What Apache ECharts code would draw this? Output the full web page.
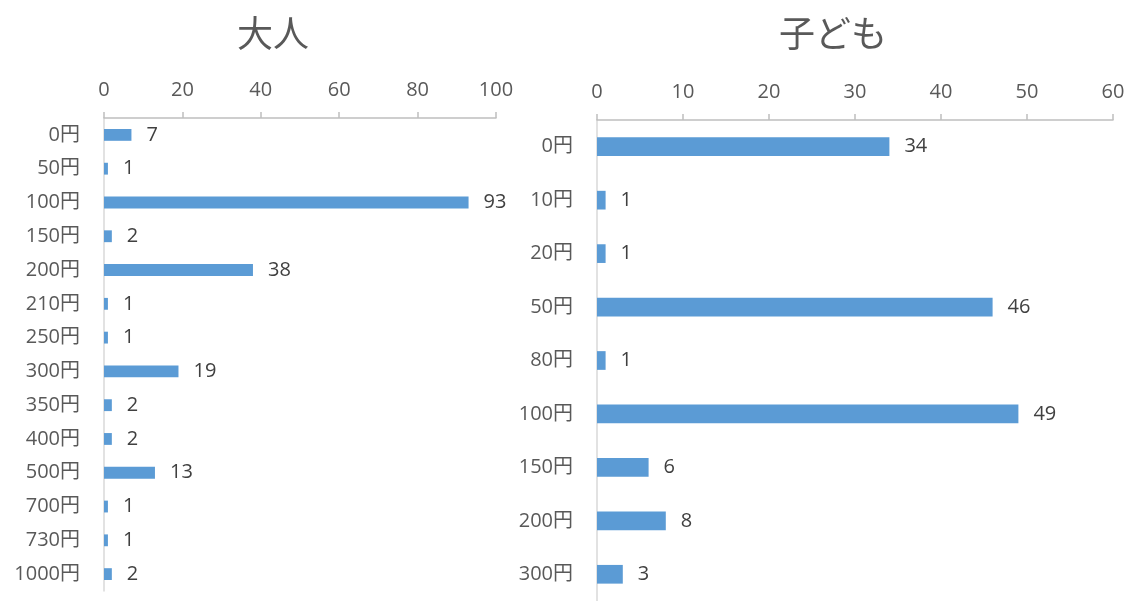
<!DOCTYPE html>
<html>
<head>
<meta charset="utf-8">
<script src="https://cdn.jsdelivr.net/npm/echarts@6/dist/echarts.min.js"></script>
<style>
  html, body { margin: 0; padding: 0; background: #fff; }
  #chart { width: 1133px; height: 601px; }
</style>
</head>
<body>
<div id="chart"></div>
<script>
// 大人の金額ごとの人数
const adultCategories = ['0円', '50円', '100円', '150円', '200円', '210円', '250円', '300円', '350円', '400円', '500円', '700円', '730円', '1000円'];
const adultValues = [7, 1, 93, 2, 38, 1, 1, 19, 2, 2, 13, 1, 1, 2];

// 子どもの金額ごとの人数
const childCategories = ['0円', '10円', '20円', '50円', '80円', '100円', '150円', '200円', '300円'];
const childValues = [34, 1, 1, 46, 1, 49, 6, 8, 3];

const titles = ['大人', '子ども'];

const FONT = '"Open Sans", "Noto Sans CJK JP", sans-serif';
const TITLE_FONT = '"Noto Sans CJK JP", sans-serif';
const TEXT = '#595959';
const BAR = '#5b9bd5';

function valueAxis(gridIndex, max, interval) {
  return {
    type: 'value', gridIndex, position: 'top', min: 0, max, interval,
    axisLine: { show: true, lineStyle: { color: '#bfbfbf', width: 1.5 } },
    axisTick: { show: true, length: 6, lineStyle: { color: '#bfbfbf', width: 1.5 } },
    axisLabel: { color: TEXT, fontSize: 20, fontFamily: FONT, margin: 18 },
    splitLine: { show: false }
  };
}

function categoryAxis(gridIndex, data) {
  return {
    type: 'category', gridIndex, data, inverse: true,
    axisLine: { show: true, lineStyle: { color: '#d9d9d9', width: 1.5 } },
    axisTick: { show: false },
    axisLabel: { color: TEXT, fontSize: 20, fontFamily: FONT, margin: 24 }
  };
}

function barSeries(index, data) {
  return {
    type: 'bar', xAxisIndex: index, yAxisIndex: index, data,
    barCategoryGap: '65%',
    itemStyle: { color: BAR },
    label: { show: true, position: 'right', distance: 15, color: '#404040', fontSize: 20, fontFamily: FONT },
    silent: true, animation: false
  };
}

const chart = echarts.init(document.getElementById('chart'));
chart.setOption({
  backgroundColor: '#fff',
  animation: false,
  title: [
    { text: titles[0], left: 268, top: 10, textAlign: 'center',
      textStyle: { color: TEXT, fontSize: 36, fontWeight: 'normal', fontFamily: TITLE_FONT } },
    { text: titles[1], left: 828, top: 10, textAlign: 'center',
      textStyle: { color: TEXT, fontSize: 36, fontWeight: 'normal', fontFamily: TITLE_FONT } }
  ],
  grid: [
    { left: 104, right: 637, top: 118, bottom: 10 },
    { left: 597, right: 20, top: 120, bottom: -7 }
  ],
  xAxis: [valueAxis(0, 100, 20), valueAxis(1, 60, 10)],
  yAxis: [categoryAxis(0, adultCategories), categoryAxis(1, childCategories)],
  series: [barSeries(0, adultValues), barSeries(1, childValues)]
});
</script>
</body>
</html>
